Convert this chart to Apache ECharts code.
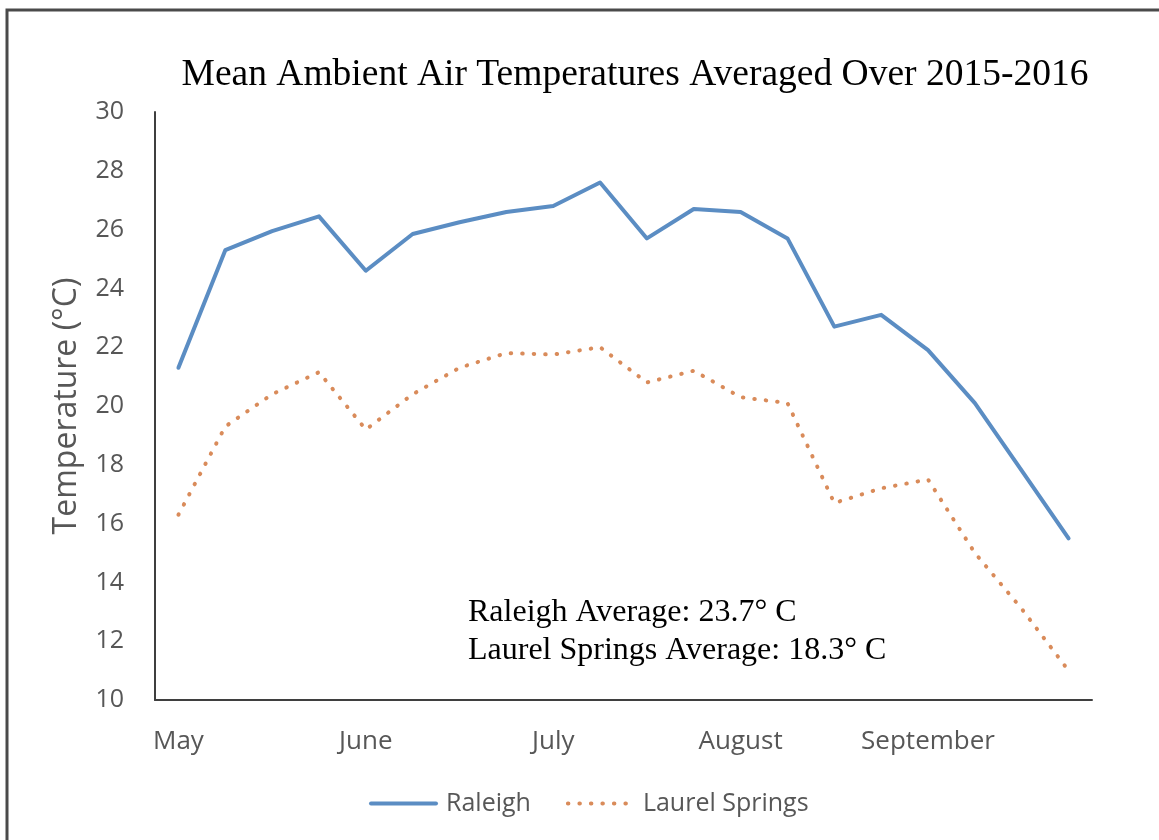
<!DOCTYPE html>
<html>
<head>
<meta charset="utf-8">
<script src="https://cdn.jsdelivr.net/npm/echarts@6/dist/echarts.min.js"></script>
<style>
  html, body { margin: 0; padding: 0; background: #ffffff; }
  #chart { width: 1159px; height: 840px; }
</style>
</head>
<body>
<div id="chart"></div>
<script>
// Weekly sample points, May through September; month names mark the first week of each month
const weekLabels = [
  'May', '', '', '',
  'June', '', '', '',
  'July', '', '', '',
  'August', '', '', '',
  'September', '', '', ''
];

// Mean ambient air temperature (°C), averaged over 2015-2016
const raleigh = [
  21.3, 25.3, 25.95, 26.45, 24.6, 25.85, 26.25, 26.6, 26.8, 27.6,
  25.7, 26.7, 26.6, 25.7, 22.7, 23.1, 21.9, 20.1, 17.8, 15.5
];
const laurelSprings = [
  16.3, 19.3, 20.4, 21.15, 19.2, 20.4, 21.3, 21.8, 21.75, 22.0,
  20.8, 21.2, 20.3, 20.1, 16.7, 17.2, 17.5, 15.0, 13.1, 11.0
];

const averageNotes = [
  'Raleigh Average: 23.7° C',
  'Laurel Springs Average: 18.3° C'
];

const axisFont = '"Open Sans", "Liberation Sans", sans-serif';
const serifFont = '"Liberation Serif", "Times New Roman", serif';
const labelGrey = '#575757';

const chart = echarts.init(document.getElementById('chart'), null, { renderer: 'canvas' });

chart.setOption({
  animation: false,
  backgroundColor: '#ffffff',
  title: {
    text: 'Mean Ambient Air Temperatures Averaged Over 2015-2016',
    left: 630,
    textAlign: 'center',
    top: 51,
    textStyle: {
      fontFamily: serifFont,
      fontWeight: 'normal',
      fontSize: 37.5,
      color: '#000000'
    }
  },
  graphic: [
    {
      type: 'rect',
      shape: { x: 7, y: 10, width: 1300, height: 1000 },
      style: { fill: 'none', stroke: '#4a4a4a', lineWidth: 3 },
      silent: true
    },
    {
      type: 'text',
      left: 468,
      top: 594,
      style: {
        text: averageNotes.join('\n'),
        font: '32px ' + serifFont,
        fill: '#000000',
        lineHeight: 38
      }
    }
  ],
  legend: {
    data: ['Raleigh', 'Laurel Springs'],
    left: 364,
    top: 786,
    itemWidth: 65,
    itemHeight: 14,
    itemGap: 35,
    lineStyle: { width: 4 },
    itemStyle: { opacity: 0 },
    textStyle: {
      fontFamily: axisFont,
      fontSize: 25,
      color: labelGrey,
      padding: [0, 0, 0, 5]
    }
  },
  grid: { left: 155, right: 67, top: 112, bottom: 140 },
  xAxis: {
    type: 'category',
    data: weekLabels,
    boundaryGap: true,
    axisLine: { lineStyle: { color: '#3f3f3f', width: 2 } },
    axisTick: { show: false },
    axisLabel: {
      interval: 0,
      margin: 29,
      fontFamily: axisFont,
      fontSize: 26,
      color: labelGrey
    },
    splitLine: { show: false }
  },
  yAxis: {
    type: 'value',
    min: 10,
    max: 30,
    interval: 2,
    name: 'Temperature (°C)',
    nameLocation: 'middle',
    nameGap: 72,
    nameTextStyle: { fontFamily: axisFont, fontSize: 32, color: labelGrey },
    axisLine: { show: true, lineStyle: { color: '#3f3f3f', width: 2 } },
    axisTick: { show: false },
    axisLabel: { margin: 31, fontFamily: axisFont, fontSize: 25, color: labelGrey },
    splitLine: { show: false }
  },
  series: [
    {
      name: 'Raleigh',
      type: 'line',
      data: raleigh,
      symbol: 'none',
      color: '#5b8dc3',
      lineStyle: { width: 4, color: '#5b8dc3', join: 'round', cap: 'round' }
    },
    {
      name: 'Laurel Springs',
      type: 'line',
      data: laurelSprings,
      symbol: 'none',
      color: '#d98b5a',
      lineStyle: { width: 4, color: '#d98b5a', type: [0.5, 11], cap: 'round', join: 'round' }
    }
  ]
});
</script>
</body>
</html>
